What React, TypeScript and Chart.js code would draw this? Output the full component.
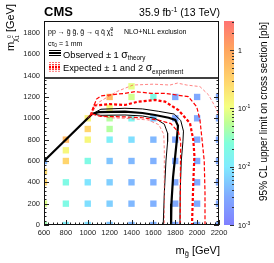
import React, { useEffect, useRef } from "react";
import { Chart, registerables } from "chart.js";

Chart.register(...registerables);

const FONT = '"Liberation Sans", Arial, Helvetica, sans-serif';

// ---------- axes ----------
const xRange = [600, 2200];
const yRange = [0, 1912];
const xTickStep = 200;
const yTickStep = 200;
const yTickMax = 1800;
const minorStep = 40;

// ---------- colour scale (log10 of pb) ----------
const zLogRange = [-3, 0.5];
const zDecades = [-3, -2, -1, 0];

// ---------- grid of signal points ----------
const gridGluino = [
  600, 600, 600, 600, 600,
  800, 800, 800, 800, 800, 800,
  1000, 1000, 1000, 1000, 1000, 1000, 1000,
  1200, 1200, 1200, 1200, 1200, 1200, 1200, 1200, 1200,
  1400, 1400, 1400, 1400, 1400, 1400, 1400, 1400,
  1600, 1600, 1600, 1600, 1600, 1600, 1600,
  1800, 1800, 1800, 1800, 1800, 1800, 1800,
  2000, 2000, 2000, 2000, 2000, 2000, 2000,
  2200, 2200, 2200, 2200, 2200, 2200, 2200,
];
const gridNeutralino = [
  0, 200, 400, 500, 600,
  0, 200, 400, 600, 700, 800,
  0, 200, 400, 600, 800, 900, 1000,
  0, 200, 400, 600, 800, 900, 1000, 1100, 1200,
  0, 200, 400, 600, 800, 1000, 1200, 1300,
  0, 200, 400, 600, 800, 1000, 1200,
  0, 200, 400, 600, 800, 1000, 1200,
  0, 200, 400, 600, 800, 1000, 1200,
  0, 200, 400, 600, 800, 1000, 1200,
];
const gridLimit = [
  0.04, 0.08, 0.3, 0.25, 0.004,
  0.012, 0.02, 0.02, 0.3, 0.13, 0.6,
  0.008, 0.008, 0.009, 0.02, 0.13, 0.3, 0.15,
  0.005, 0.006, 0.006, 0.005, 0.012, 0.05, 0.05, 0.12, 0.6,
  0.004, 0.004, 0.004, 0.004, 0.008, 0.015, 0.07, 0.09,
  0.0035, 0.0035, 0.0035, 0.0035, 0.004, 0.005, 0.02,
  0.003, 0.003, 0.003, 0.003, 0.003, 0.003, 0.003,
  0.003, 0.003, 0.003, 0.003, 0.003, 0.003, 0.003,
  0.003, 0.003, 0.003, 0.003, 0.003, 0.003, 0.003,
];

// ---------- exclusion contours [m_gluino, m_neutralino] ----------
const observed: number[][] = [
  [600, 600], [1040, 1040], [1100, 1058], [1340, 1062], [1500, 1050], [1615, 1031],
  [1740, 1005], [1800, 985], [1825, 930], [1815, 800], [1800, 650], [1780, 450],
  [1765, 200], [1762, 0],
];
const observedUp: number[][] = [
  [1040, 1040], [1120, 1085], [1340, 1094], [1500, 1088], [1650, 1065], [1790, 1040],
  [1850, 980], [1875, 880], [1870, 780], [1855, 600], [1845, 300], [1843, 0],
];
const observedDown: number[][] = [
  [1040, 1040], [1120, 1028], [1340, 1031], [1500, 1022], [1615, 1000], [1700, 945],
  [1730, 860], [1730, 780], [1715, 600], [1700, 300], [1690, 0],
];
const expected: number[][] = [
  [1030, 1030], [1060, 1120], [1200, 1133], [1340, 1125], [1462, 1156], [1615, 1172],
  [1706, 1156], [1828, 1078], [1935, 953], [1965, 797], [1975, 650], [1965, 400], [1953, 0],
];
const expectedUp1: number[][] = [
  [1020, 1020], [1080, 1180], [1120, 1210], [1340, 1234], [1432, 1250], [1584, 1234],
  [1706, 1234], [1919, 1203], [1996, 1109], [2026, 984], [2045, 800], [2065, 600],
  [2072, 300], [2072, 0],
];
const expectedDown1: number[][] = [
  [1040, 1040], [1120, 1018], [1340, 1013], [1500, 1005], [1645, 984], [1760, 950],
  [1830, 870], [1850, 780], [1848, 600], [1845, 0],
];
const expectedUp2: number[][] = [
  [1000, 1000], [1100, 1150], [1264, 1250], [1414, 1312], [1600, 1320], [1752, 1312],
  [1820, 1330], [1904, 1312], [2026, 1297], [2105, 1219], [2181, 1078], [2215, 950],
];
const expectedDown2: number[][] = [
  [1040, 1040], [1200, 1005], [1340, 1000], [1550, 985], [1650, 940], [1695, 850],
  [1700, 700], [1700, 0],
];

// ---------- palette ----------
const paletteStops: [number, number[]][] = [
  [0.0, [128, 128, 255]],
  [0.14, [128, 170, 255]],
  [0.286, [128, 235, 255]],
  [0.4, [128, 255, 220]],
  [0.5, [190, 255, 150]],
  [0.58, [245, 255, 128]],
  [0.7, [255, 215, 110]],
  [0.86, [255, 165, 95]],
  [1.0, [255, 115, 115]],
];

function paletteAt(t: number): string {
  const tt = Math.max(0, Math.min(1, t));
  for (let i = 1; i < paletteStops.length; i++) {
    const [t1, c1] = paletteStops[i];
    const [t0, c0] = paletteStops[i - 1];
    if (tt <= t1) {
      const f = (tt - t0) / (t1 - t0);
      const c = c0.map((v, k) => Math.round(v + (c1[k] - v) * f));
      return `rgb(${c[0]},${c[1]},${c[2]})`;
    }
  }
  const c = paletteStops[paletteStops.length - 1][1];
  return `rgb(${c[0]},${c[1]},${c[2]})`;
}
function colorFor(v: number): string {
  return paletteAt((Math.log10(v) - zLogRange[0]) / (zLogRange[1] - zLogRange[0]));
}

type Seg = { t: string; size: number; dy?: number; bold?: boolean; noAdv?: boolean };

function segFont(s: Seg) {
  return `${s.bold ? "bold " : ""}${s.size}px ${FONT}`;
}
function segWidth(ctx: CanvasRenderingContext2D, segs: Seg[]) {
  let w = 0;
  for (const s of segs) {
    ctx.font = segFont(s);
    if (!s.noAdv) w += ctx.measureText(s.t).width;
  }
  return w;
}
function drawSegs(ctx: CanvasRenderingContext2D, x: number, y: number, segs: Seg[]) {
  let cx = x;
  ctx.textAlign = "left";
  ctx.textBaseline = "alphabetic";
  for (const s of segs) {
    ctx.font = segFont(s);
    ctx.fillText(s.t, cx, y + (s.dy || 0));
    if (!s.noAdv) cx += ctx.measureText(s.t).width;
  }
  return cx;
}

const overlayPlugin = {
  id: "overlay",
  afterDatasetsDraw(chart: any) {
    const { ctx, chartArea: ca, scales } = chart;
    const xs = scales.x;
    const ys = scales.y;
    ctx.save();

    // inner ticks
    ctx.strokeStyle = "#222";
    ctx.lineWidth = 1;
    ctx.beginPath();
    for (let v = xRange[0]; v <= xRange[1]; v += minorStep) {
      const px = Math.round(xs.getPixelForValue(v)) + 0.5;
      const len = v % xTickStep === 0 ? 5 : 2.5;
      ctx.moveTo(px, ca.bottom);
      ctx.lineTo(px, ca.bottom - len);
    }
    for (let v = yRange[0]; v <= yRange[1]; v += minorStep) {
      const py = Math.round(ys.getPixelForValue(v)) + 0.5;
      const len = v % yTickStep === 0 ? 5 : 2.5;
      ctx.moveTo(ca.left, py);
      ctx.lineTo(ca.left + len, py);
      ctx.moveTo(ca.right, py);
      ctx.lineTo(ca.right - len, py);
    }
    ctx.stroke();

    // legend box
    const lbTop = ca.top;
    const lbBottom = 78;
    ctx.fillStyle = "#fff";
    ctx.fillRect(ca.left, lbTop, ca.right - ca.left, lbBottom - lbTop);
    ctx.strokeStyle = "#000";
    ctx.lineWidth = 1.6;
    ctx.beginPath();
    ctx.moveTo(ca.left, lbBottom);
    ctx.lineTo(ca.right, lbBottom);
    ctx.stroke();

    // frame
    ctx.lineWidth = 1;
    ctx.strokeStyle = "#111";
    ctx.strokeRect(ca.left + 0.5, ca.top + 0.5, ca.right - ca.left - 1, ca.bottom - ca.top - 1);

    // legend text
    ctx.fillStyle = "#000";
    const x0 = 48;
    drawSegs(ctx, x0, 34, [
      { t: "pp \u2192 g\u0303 g\u0303, g\u0303 \u2192 q q\u0304 \u03c7\u0303", size: 7 },
      { t: "0", size: 4.8, dy: -3, noAdv: true },
      { t: "1", size: 4.8, dy: 1.5 },
    ]);
    drawSegs(ctx, 124, 34, [{ t: "NLO+NLL exclusion", size: 7 }]);
    drawSegs(ctx, x0, 45.5, [
      { t: "c\u03c4", size: 7 },
      { t: "0", size: 4.8, dy: 1.5 },
      { t: " = 1 mm", size: 7 },
    ]);
    drawSegs(ctx, 63, 57.5, [
      { t: "Observed \u00b1 1 ", size: 9.3 },
      { t: "\u03c3", size: 10.5 },
      { t: "theory", size: 6.3, dy: 2.5 },
    ]);
    drawSegs(ctx, 63, 71, [
      { t: "Expected \u00b1 1 and 2 ", size: 9.3 },
      { t: "\u03c3", size: 10.5 },
      { t: "experiment", size: 6.3, dy: 2.5 },
    ]);

    // legend icons
    const ix0 = 49, ix1 = 61;
    const hline = (y: number, w: number, col: string, dash: number[]) => {
      ctx.beginPath();
      ctx.setLineDash(dash);
      ctx.strokeStyle = col;
      ctx.lineWidth = w;
      ctx.moveTo(ix0, y);
      ctx.lineTo(ix1, y);
      ctx.stroke();
    };
    hline(50.5, 1, "#000", []);
    hline(53, 2, "#000", []);
    hline(55.5, 1, "#000", []);
    hline(62.5, 0.9, "rgba(255,60,60,0.8)", [2, 1]);
    hline(64.7, 1.1, "#f00", [2, 1]);
    hline(66.9, 2, "#f00", [2, 1]);
    hline(69.1, 1.1, "#f00", [2, 1]);
    hline(71.3, 0.9, "rgba(255,60,60,0.8)", [2, 1]);
    ctx.setLineDash([]);

    // header
    ctx.fillStyle = "#000";
    drawSegs(ctx, 44, 15.5, [{ t: "CMS", size: 13, bold: true }]);
    const lumi: Seg[] = [
      { t: "35.9 fb", size: 10.5 },
      { t: "-1", size: 7, dy: -4 },
      { t: " (13 TeV)", size: 10.5 },
    ];
    drawSegs(ctx, 220 - segWidth(ctx, lumi), 15.5, lumi);

    // x title
    const xt: Seg[] = [
      { t: "m", size: 11 },
      { t: "g\u0303", size: 7.5, dy: 2.5 },
      { t: " [GeV]", size: 11 },
    ];
    drawSegs(ctx, 220 - segWidth(ctx, xt), 253.5, xt);

    // y title (rotated)
    const yt: Seg[] = [
      { t: "m", size: 11 },
      { t: "\u03c7\u0303", size: 7.5, dy: 2.5 },
      { t: "0", size: 5, dy: -3, noAdv: true },
      { t: "1", size: 5, dy: 4.5 },
      { t: " [GeV]", size: 11 },
    ];
    const ytw = segWidth(ctx, yt);
    ctx.save();
    ctx.translate(14, 4 + ytw);
    ctx.rotate(-Math.PI / 2);
    drawSegs(ctx, 0, 0, yt);
    ctx.restore();

    // colour bar
    const cbL = 224, cbR = 234, cbT = ca.top, cbB = ca.bottom;
    const grad = ctx.createLinearGradient(0, cbB, 0, cbT);
    for (const [t, c] of paletteStops) grad.addColorStop(t, `rgb(${c[0]},${c[1]},${c[2]})`);
    ctx.fillStyle = grad;
    ctx.fillRect(cbL, cbT, cbR - cbL, cbB - cbT);
    const zPix = (lg: number) =>
      cbB - ((lg - zLogRange[0]) / (zLogRange[1] - zLogRange[0])) * (cbB - cbT);
    ctx.strokeStyle = "#333";
    ctx.lineWidth = 1;
    ctx.beginPath();
    for (let d = zLogRange[0]; d < zLogRange[1]; d++) {
      for (let m = 1; m <= 9; m++) {
        const lg = d + Math.log10(m);
        if (lg > zLogRange[1]) break;
        const py = Math.round(zPix(lg)) + 0.5;
        const len = m === 1 ? 4 : 2;
        ctx.moveTo(cbR, py);
        ctx.lineTo(cbR - len, py);
      }
    }
    ctx.stroke();
    ctx.fillStyle = "#000";
    for (const d of zDecades) {
      const py = zPix(d) + 2.5;
      if (d === 0) drawSegs(ctx, 238, py, [{ t: "1", size: 7 }]);
      else drawSegs(ctx, 238, py, [{ t: "10", size: 7 }, { t: String(d), size: 5, dy: -3 }]);
    }

    // colour bar title
    const zt: Seg[] = [{ t: "95% CL upper limit on cross section [pb]", size: 10 }];
    const ztw = segWidth(ctx, zt);
    ctx.save();
    ctx.translate(266.5, 22 + ztw);
    ctx.rotate(-Math.PI / 2);
    drawSegs(ctx, 0, 0, zt);
    ctx.restore();

    ctx.restore();
  },
};

const toXY = (pts: number[][]) => pts.map((p) => ({ x: p[0], y: p[1] }));

function lineDs(pts: number[][], color: string, width: number, dash: number[]) {
  return {
    data: toXY(pts),
    showLine: true,
    borderColor: color,
    borderWidth: width,
    borderDash: dash,
    pointRadius: 0,
    fill: false,
    tension: 0,
    order: 0,
    clip: 0,
  };
}

export default function App() {
  const ref = useRef<HTMLCanvasElement>(null);
  useEffect(() => {
    const points = gridGluino.map((g, i) => ({ x: g, y: gridNeutralino[i], v: gridLimit[i] }));
    const chart = new Chart(ref.current!, {
      type: "scatter",
      data: {
        datasets: [
          lineDs(expectedUp2, "rgba(255,70,70,0.75)", 0.9, [3, 2]),
          lineDs(expectedDown2, "rgba(255,70,70,0.75)", 0.9, [3, 2]),
          lineDs(expectedUp1, "#ff0000", 1.2, [4, 2]),
          lineDs(expectedDown1, "#ff0000", 1.2, [4, 2]),
          lineDs(expected, "#ff0000", 2.2, [3, 2]),
          lineDs(observedUp, "#000", 1, []),
          lineDs(observedDown, "#000", 1, []),
          lineDs(observed, "#000", 2.2, []),
          {
            data: points,
            pointStyle: "rect",
            pointRadius: 4.5,
            borderWidth: 0,
            backgroundColor: (c: any) => colorFor(c.raw ? c.raw.v : 0.01),
            order: 10,
            clip: 0,
          } as any,
        ],
      },
      options: {
        animation: false,
        responsive: false,
        devicePixelRatio: 1,
        layout: { padding: { left: 0, right: 55, top: 21, bottom: 0 } },
        plugins: { legend: { display: false }, tooltip: { enabled: false } },
        events: [],
        scales: {
          x: {
            type: "linear",
            min: xRange[0],
            max: xRange[1],
            border: { display: false },
            grid: { display: false, drawTicks: false },
            ticks: {
              stepSize: xTickStep,
              padding: 3,
              maxRotation: 0,
              autoSkip: false,
              color: "#222",
              font: { family: FONT, size: 7.5 },
              callback: (v: any) => String(v),
            },
            afterFit: (s: any) => {
              s.height = 38;
              s.paddingLeft = 0;
              s.paddingRight = 0;
            },
          },
          y: {
            type: "linear",
            min: yRange[0],
            max: yRange[1],
            border: { display: false },
            grid: { display: false, drawTicks: false },
            ticks: {
              stepSize: yTickStep,
              padding: 4,
              autoSkip: false,
              color: "#222",
              font: { family: FONT, size: 7.5 },
              callback: (v: any) => String(v),
            },
            afterBuildTicks: (s: any) => {
              s.ticks = s.ticks.filter((t: any) => t.value % yTickStep === 0 && t.value <= yTickMax);
            },
            afterFit: (s: any) => {
              s.width = 44;
              s.paddingTop = 0;
              s.paddingBottom = 0;
            },
          },
        },
      },
      plugins: [overlayPlugin],
    } as any);
    return () => chart.destroy();
  }, []);
  return (
    <div style={{ position: "absolute", left: 0, top: 0, width: 274, height: 263, background: "#fff" }}>
      <canvas ref={ref} width={274} height={263} style={{ width: 274, height: 263, display: "block" }} />
    </div>
  );
}
